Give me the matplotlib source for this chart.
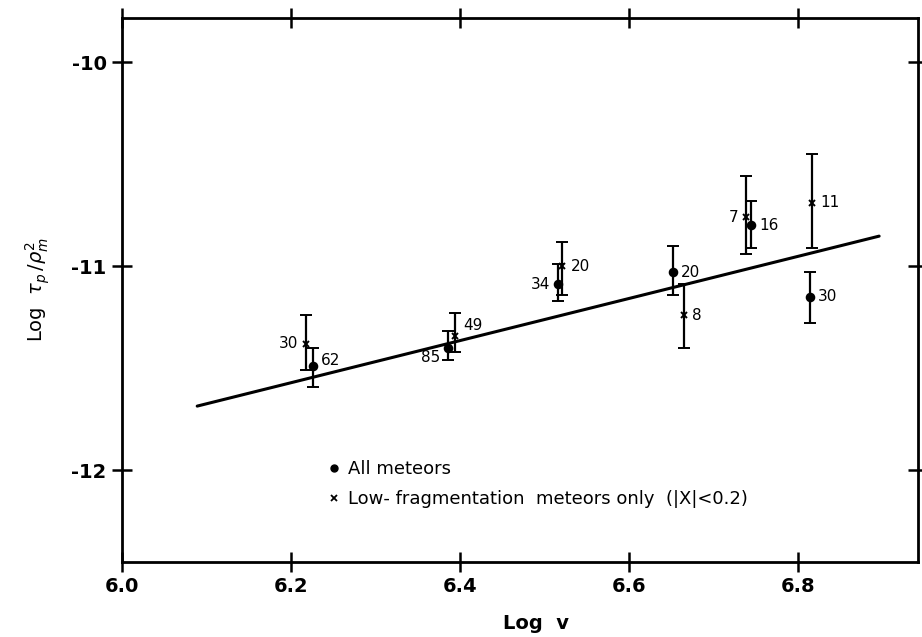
import matplotlib
matplotlib.use("Agg")
import matplotlib.pyplot as plt
from matplotlib.lines import Line2D

# ---- data ----
# All meteors (dots)
all_v      = [6.226, 6.386, 6.516, 6.652, 6.744, 6.814]
all_y      = [-11.49, -11.40, -11.09, -11.03, -10.80, -11.15]
all_lo     = [-11.59, -11.46, -11.17, -11.14, -10.91, -11.28]
all_hi     = [-11.40, -11.32, -10.99, -10.90, -10.68, -11.03]
all_n      = ["62", "85", "34", "20", "16", "30"]
all_side   = ["right", "left", "left", "right", "right", "right"]

# Low-fragmentation meteors only (crosses)
low_v      = [6.218, 6.394, 6.521, 6.665, 6.739, 6.816]
low_y      = [-11.38, -11.34, -11.00, -11.24, -10.76, -10.69]
low_lo     = [-11.51, -11.42, -11.14, -11.40, -10.94, -10.91]
low_hi     = [-11.24, -11.23, -10.88, -11.09, -10.56, -10.45]
low_n      = ["30", "49", "20", "8", "7", "11"]
low_side   = ["left", "right", "right", "right", "left", "right"]

# fitted line end points
fit_v = [6.089, 6.896]
fit_y = [-11.686, -10.853]

x_ticks = [6.0, 6.2, 6.4, 6.6, 6.8]
y_ticks = [-10, -11, -12]

fig = plt.figure(figsize=(9.22, 6.37), dpi=100)
ax = fig.add_axes([122/922, 1 - 562/637, (918-122)/922, (562-18)/637])

ax.plot(fit_v, fit_y, color="black", lw=2.2, solid_capstyle="round")

def err(v, y, lo, hi, marker, ms):
    yerr = [[yy - l for yy, l in zip(y, lo)], [h - yy for yy, h in zip(y, hi)]]
    ax.errorbar(v, y, yerr=yerr, fmt=marker, color="black", ms=ms,
                mew=1.4, elinewidth=1.6, capsize=4.5, capthick=1.6)

err(all_v, all_y, all_lo, all_hi, "o", 5.5)
err(low_v, low_y, low_lo, low_hi, "x", 4)

def labels(v, y, n, side, dy):
    for vv, yy, nn, s in zip(v, y, n, side):
        off = 6 if s == "right" else -6
        ax.annotate(nn, (vv, yy), xytext=(off, dy.get(nn + s, 0)),
                    textcoords="offset points", ha="left" if s == "right" else "right",
                    va="center", fontsize=11)

labels(all_v, all_y, all_n, all_side, {"62right": 4, "85left": -7})
labels(low_v, low_y, low_n, low_side, {"49right": 7})

ax.set_xlim(6.0, 6.942)
ax.set_ylim(-12.45, -9.784)
ax.set_xticks(x_ticks)
ax.set_xticklabels([f"{t:.1f}" for t in x_ticks], fontsize=14, fontweight="bold")
ax.set_yticks(y_ticks)
ax.set_yticklabels([f"{t}" for t in y_ticks], fontsize=14, fontweight="bold")
ax.tick_params(direction="inout", length=14, width=1.8, top=True, right=True,
               labeltop=False, labelright=False, pad=4)
for sp in ax.spines.values():
    sp.set_linewidth(2)

ax.set_xlabel("Log  v", fontsize=14, fontweight="bold")
ax.xaxis.set_label_coords(0.52, -0.095)
ax.set_ylabel(r"Log  $\tau_p\,/\rho_m^2$", fontsize=14, labelpad=14)

handles = [Line2D([], [], ls="none", marker="o", ms=5, color="black"),
           Line2D([], [], ls="none", marker="x", ms=4, mew=1.3, color="black")]
ax.legend(handles, ["All meteors", "Low- fragmentation  meteors only  (|X|<0.2)"],
          loc="upper left", bbox_to_anchor=(0.25, 0.2), frameon=False,
          fontsize=13, handlelength=0.6, handletextpad=0.5, labelspacing=0.65,
          borderaxespad=0)

fig.savefig("out.png", dpi=100)
